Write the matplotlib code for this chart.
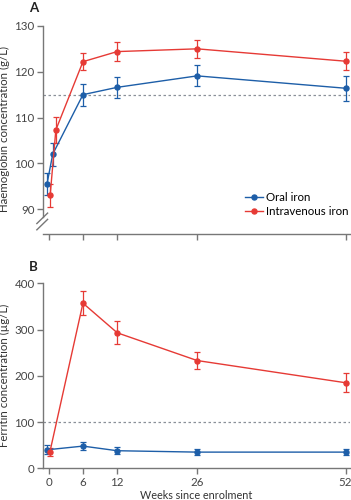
import numpy as np
import matplotlib
matplotlib.use('Agg')
import matplotlib.pyplot as plt
from matplotlib.lines import Line2D

plt.rcParams['font.family'] = ['Lato', 'DejaVu Sans']

# Panel A: haemoglobin (g/L)
hb_weeks = [0, 1, 6, 12, 26, 52]
hb_oral = [95.5, 102.0, 115.0, 116.6, 119.1, 116.4]
hb_oral_err = [2.3, 2.5, 2.4, 2.3, 2.3, 2.7]
hb_iv = [93.0, 107.3, 122.2, 124.4, 125.0, 122.3]
hb_iv_err = [2.5, 2.8, 1.8, 2.0, 2.0, 2.0]

# Panel B: ferritin (ug/L)
fe_weeks = [0, 6, 12, 26, 52]
fe_oral = [40, 48, 38, 35, 35]
fe_oral_err = [10, 8, 7, 6, 6]
fe_iv = [35, 357, 293, 233, 185]
fe_iv_err = [8, 26, 25, 18, 21]

week_ticks = [0, 6, 12, 26, 52]
blue = '#1d5ea8'
red = '#e63a35'
grey = '#777777'

def jitter(weeks, d):
    # small horizontal offset for the crowded early time points
    return [w + d if w < 2 else w for w in weeks]

fig = plt.figure(figsize=(3.51, 5.0), dpi=100)
axA = fig.add_axes([0.1225, 0.532, 0.875, 0.418])
axB = fig.add_axes([0.1225, 0.0634, 0.875, 0.37])

def style(ax):
    for s in ['top', 'right']:
        ax.spines[s].set_visible(False)
    for s in ['left', 'bottom']:
        ax.spines[s].set_color(grey)
        ax.spines[s].set_linewidth(1.0)
    ax.tick_params(colors=grey, labelcolor='#444444', labelsize=8.3, length=4, width=1.0, pad=2)
    ax.set_xlim(-1, 52.8)
    ax.set_xticks(week_ticks)

kw = dict(marker='o', ms=3.6, lw=1.0, capsize=2.3, elinewidth=0.9, capthick=0.9)

# Panel A
style(axA)
axA.axhline(115, color='#8a9099', ls=(0, (2, 2)), lw=0.9)
axA.errorbar(jitter(hb_weeks, -0.3), hb_oral, yerr=hb_oral_err, color=blue, **kw)
axA.errorbar(jitter(hb_weeks, 0.25), hb_iv, yerr=hb_iv_err, color=red, **kw)
axA.set_ylim(84.6, 130.2)
axA.set_yticks([90, 100, 110, 120, 130])
axA.spines['left'].set_bounds(88.3, 130)
axA.set_xticklabels([])
axA.set_ylabel('Haemoglobin concentration (g/L)', fontsize=8.3, color='#333333', labelpad=3)
# axis break marks
for dy in [0.0, 0.03]:
    axA.plot([-0.02, 0.015], [0.02 + dy, 0.07 + dy], transform=axA.transAxes,
             color=grey, lw=1.0, clip_on=False)
handles = [Line2D([], [], color=blue, marker='o', ms=3.6, lw=1.0),
           Line2D([], [], color=red, marker='o', ms=3.6, lw=1.0)]
axA.legend(handles, ['Oral iron', 'Intravenous iron'], loc='lower right',
           bbox_to_anchor=(1.03, 0.03), frameon=False, fontsize=8.3,
           handlelength=1.6, handletextpad=0.3, labelspacing=0.3)
axA.text(-0.045, 1.06, 'A', transform=axA.transAxes, fontsize=9.5, fontweight='bold', color='#222222')

# Panel B
style(axB)
axB.axhline(100, color='#8a9099', ls=(0, (2, 2)), lw=0.9)
axB.errorbar(jitter(fe_weeks, -0.3), fe_oral, yerr=fe_oral_err, color=blue, **kw)
axB.errorbar(jitter(fe_weeks, 0.2), fe_iv, yerr=fe_iv_err, color=red, **kw)
axB.set_ylim(0, 400)
axB.set_yticks([0, 100, 200, 300, 400])
axB.set_ylabel('Ferritin concentration (\u00b5g/L)', fontsize=8.3, color='#333333', labelpad=3)
axB.set_xlabel('Weeks since enrolment', fontsize=7.8, color='#333333', labelpad=2)
axB.text(-0.045, 1.065, 'B', transform=axB.transAxes, fontsize=9.5, fontweight='bold', color='#222222')

fig.savefig('out.png', dpi=100)
